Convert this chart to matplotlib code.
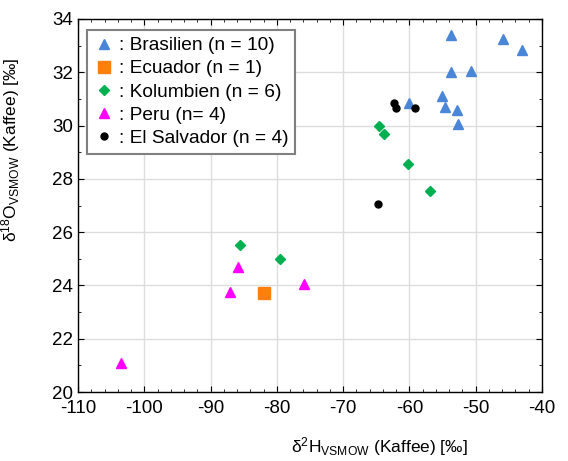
import numpy as np
import matplotlib
matplotlib.use('Agg')
import matplotlib.pyplot as plt
from matplotlib.ticker import MultipleLocator

plt.rcParams['font.family'] = ['Liberation Sans', 'DejaVu Sans']
plt.rcParams['mathtext.default'] = 'regular'
plt.rcParams['axes.unicode_minus'] = False

# d2H, d18O per origin
bra_x = [-53.8, -45.9, -43.0, -53.8, -50.7, -55.1, -54.6, -52.8, -52.6, -60.0]
bra_y = [33.4, 33.25, 32.85, 32.0, 32.05, 31.1, 30.7, 30.6, 30.05, 30.85]
ecu_x = [-81.9]
ecu_y = [23.7]
kol_x = [-64.6, -63.8, -60.2, -56.9, -85.6, -79.6]
kol_y = [30.0, 29.7, 28.55, 27.55, 25.5, 25.0]
per_x = [-85.8, -87.1, -75.9, -103.5]
per_y = [24.7, 23.75, 24.05, 21.1]
sal_x = [-62.4, -62.0, -59.1, -64.7]
sal_y = [30.85, 30.65, 30.65, 27.05]

fig = plt.figure(figsize=(5.68, 4.61), dpi=100)
ax = fig.add_axes([78/568, 1-392/461, 464/568, 373/461])

ax.plot(bra_x, bra_y, '^', color='#4a86d8', ms=7, ls='none', label=': Brasilien (n = 10)')
ax.plot(ecu_x, ecu_y, 's', color='#ff7f0e', ms=8, ls='none', label=': Ecuador (n = 1)')
ax.plot(kol_x, kol_y, 'D', color='#00b050', ms=5, ls='none', label=': Kolumbien (n = 6)')
ax.plot(per_x, per_y, '^', color='#ff00ff', ms=7, ls='none', label=': Peru (n= 4)')
ax.plot(sal_x, sal_y, 'o', color='black', ms=5, ls='none', label=': El Salvador (n = 4)')

ax.set_xlim(-110, -40)
ax.set_ylim(20, 34)
ax.xaxis.set_major_locator(MultipleLocator(10))
ax.xaxis.set_minor_locator(MultipleLocator(2))
ax.yaxis.set_major_locator(MultipleLocator(2))
ax.yaxis.set_minor_locator(MultipleLocator(1))
ax.tick_params(which='both', direction='in', top=True, right=True, labelsize=13.5)
ax.tick_params(which='major', length=4)
ax.tick_params(which='minor', length=2)
ax.tick_params(axis='x', pad=6)
ax.grid(True, which='major', color='#dddddd', lw=1)
ax.set_axisbelow(True)
for s in ax.spines.values():
    s.set_linewidth(1.0)

ax.set_xlabel(r'$\delta^2H_{VSMOW}$ (Kaffee) [‰]', fontsize=12.5)
ax.set_ylabel(r'$\delta^{18}O_{VSMOW}$ (Kaffee) [‰]', fontsize=12.5)
ax.xaxis.set_label_coords(0.65, -0.115)
ax.yaxis.set_label_coords(-0.12, 0.65)

leg = ax.legend(loc='upper left', bbox_to_anchor=(0.02, 0.97), fontsize=13.8,
                fancybox=False, framealpha=1, edgecolor='#808080',
                handletextpad=0.3, borderpad=0.35, labelspacing=0.3,
                handlelength=1.0, borderaxespad=0)
leg.get_frame().set_linewidth(1.5)

fig.savefig('out.png', dpi=100)
